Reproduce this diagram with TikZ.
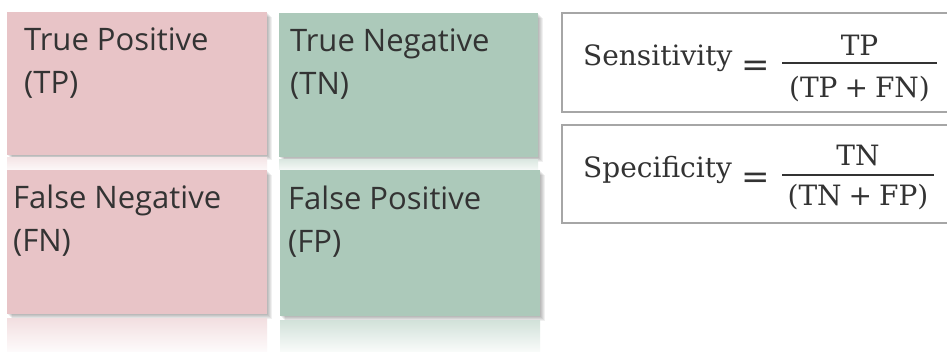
\documentclass[tikz,border=0pt]{standalone}
\usepackage{fontspec}
\setmainfont{DejaVu Serif}
\newfontfamily\cellfont{Open Sans}
\definecolor{pinkc}{HTML}{E8C4C7}
\definecolor{greenc}{HTML}{ACC9BA}
\definecolor{txt}{HTML}{333333}
\definecolor{frame}{HTML}{A6A6A6}
\newcommand{\plusgap}{\hspace{7pt}+\hspace{7pt}}
\begin{document}
\begin{tikzpicture}[x=1pt,y=-1pt,
  celltext/.style={anchor=base west, inner sep=0pt, font=\cellfont\fontsize{31}{43}\selectfont, text=txt, align=left},
  formbox/.style={draw=frame, line width=2pt, fill=white},
  formtext/.style={inner sep=0pt, font=\fontsize{28}{30}\selectfont, text=txt},
  eqtext/.style={inner sep=0pt, anchor=base, font=\fontsize{34}{36}\selectfont, text=txt},
  fracbar/.style={draw=txt, line width=1.3pt}]
\useasboundingbox (0,0) rectangle (947,351);
\fill[white] (0,0) rectangle (947,351);
% shadows
\foreach \a/\b/\c/\d in {7/12/267/155, 279/13/538/157, 7/170/267/314, 280/170/540/316}{
  \foreach \i in {1,...,5}{
    \fill[black, opacity=0.06] (\a+\i,\b+\i) rectangle (\c+\i,\d+\i);
  }
}
% reflections
\shade[top color=pinkc!45!white, bottom color=pinkc!15!white] (7,157) rectangle (267,169);
\shade[top color=greenc!45!white, bottom color=greenc!15!white] (279,159) rectangle (538,169);
\shade[top color=pinkc!55!white, bottom color=pinkc!8!white] (7,318) rectangle (267,351);
\shade[top color=greenc!55!white, bottom color=greenc!8!white] (280,320) rectangle (540,351);
% cells
\fill[pinkc] (7,12) rectangle (267,155);
\fill[greenc] (279,13) rectangle (538,157);
\fill[pinkc] (7,170) rectangle (267,314);
\fill[greenc] (280,170) rectangle (540,316);
\node[celltext] (tpt) at (24,93) {True Positive\\(TP)};
\node[celltext] (tnt) at (290,94) {True Negative\\(TN)};
\node[celltext] (fnt) at (13,251) {False Negative\\(FN)};
\node[celltext] (fpt) at (288,252) {False Positive\\(FP)};
% formula boxes
\draw[formbox] (562,13) rectangle (955,112);
\draw[formbox] (562,125) rectangle (955,223);
% sensitivity
\node[formtext, anchor=base west] (sens) at (583,65) {Sensitivity};
\node[eqtext] (seq) at (756,76) {=};
\coordinate (sbl) at (782,63);
\coordinate (sbr) at (937,63);
\draw[fracbar] (sbl) -- (sbr);
\node[formtext, anchor=base] (snum) at (859.5,55) {TP};
\node[formtext, anchor=base] (sden) at (859.5,97) {(TP\plusgap FN)};
% specificity
\node[formtext, anchor=base west] (spec) at (583,177) {Specificity};
\node[eqtext] (peq) at (756,188) {=};
\coordinate (pbl) at (782,175);
\coordinate (pbr) at (934,175);
\draw[fracbar] (pbl) -- (pbr);
\node[formtext, anchor=base] (pnum) at (858,165) {TN};
\node[formtext, anchor=base] (pden) at (858,205) {(TN\plusgap FP)};
\end{tikzpicture}
\end{document}
